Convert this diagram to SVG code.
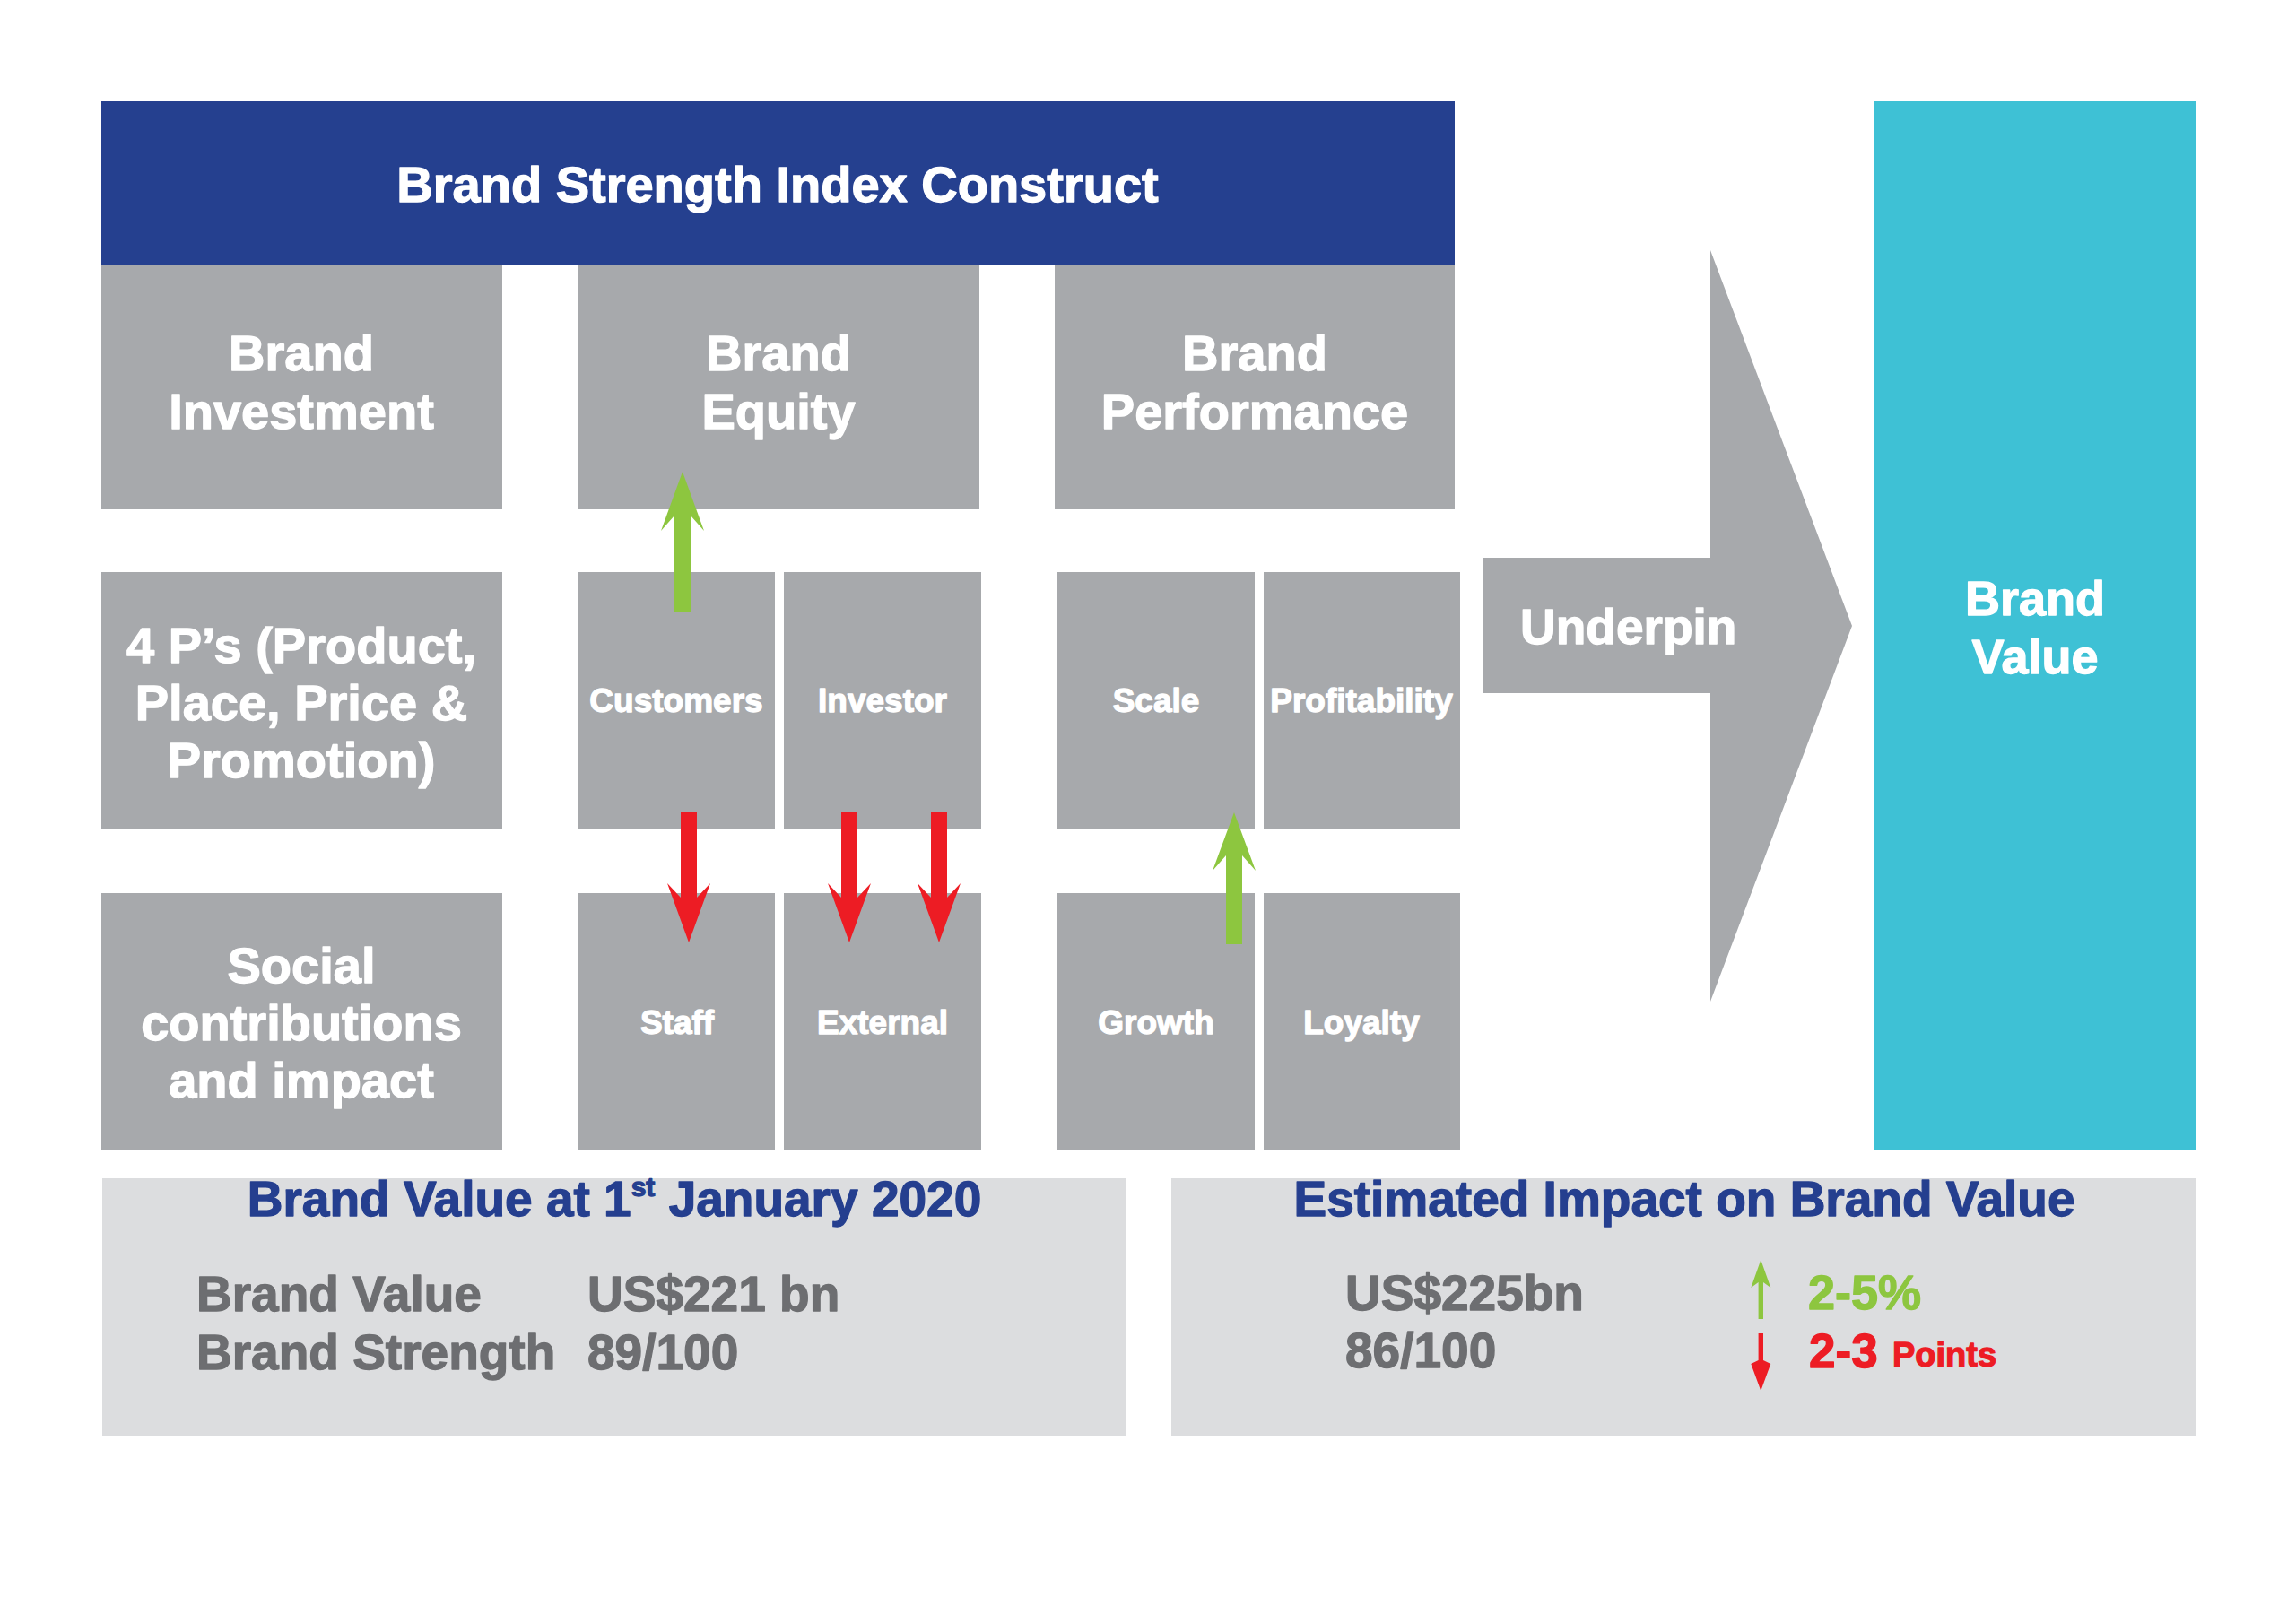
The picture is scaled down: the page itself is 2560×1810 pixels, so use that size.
<svg xmlns="http://www.w3.org/2000/svg" width="2560" height="1810" viewBox="0 0 2560 1810">
<style>
text{font-family:"Liberation Sans",Arial,sans-serif;font-weight:bold;stroke-width:1.3px;stroke-linejoin:round}
.box{fill:#a7a9ac}
.w{fill:#ffffff;stroke:#ffffff}
.big{font-size:56px;text-anchor:middle}
.sm{font-size:37px;text-anchor:middle}
.panel{fill:#dcdddf}
.ptitle{font-size:55px;fill:#253f8f;stroke:#253f8f;text-anchor:middle}
.gt{font-size:55px;fill:#6d6e71;stroke:#6d6e71}
.green{fill:#8dc63f}
.red{fill:#ed1c24}
text.green{stroke:#8dc63f}
text.red{stroke:#ed1c24}
</style>
<rect width="2560" height="1810" fill="#ffffff"/>
<g id="header">
<rect x="113" y="113" width="1509" height="183" fill="#25408f"/>
<text class="w big" x="867" y="225">Brand Strength Index Construct</text>
</g>
<g id="brand-investment">
<rect class="box" x="113" y="296" width="447" height="272"/>
<text class="w big" x="336" y="413">Brand</text>
<text class="w big" x="336" y="478">Investment</text>
</g>
<g id="brand-equity">
<rect class="box" x="645" y="296" width="447" height="272"/>
<text class="w big" x="868" y="413">Brand</text>
<text class="w big" x="868" y="478">Equity</text>
</g>
<g id="brand-performance">
<rect class="box" x="1176" y="296" width="446" height="272"/>
<text class="w big" x="1399" y="413">Brand</text>
<text class="w big" x="1399" y="478">Performance</text>
</g>
<g id="four-ps">
<rect class="box" x="113" y="638" width="447" height="287"/>
<text class="w big" x="336" y="739">4 P’s (Product,</text>
<text class="w big" x="336" y="803">Place, Price &amp;</text>
<text class="w big" x="336" y="867">Promotion)</text>
</g>
<g id="social">
<rect class="box" x="113" y="996" width="447" height="286"/>
<text class="w big" x="336" y="1096">Social</text>
<text class="w big" x="336" y="1160">contributions</text>
<text class="w big" x="336" y="1224">and impact</text>
</g>
<g id="customers">
<rect class="box" x="645" y="638" width="219" height="287"/>
<text class="w sm" x="754" y="794">Customers</text>
</g>
<g id="investor">
<rect class="box" x="874" y="638" width="220" height="287"/>
<text class="w sm" x="984" y="794">Investor</text>
</g>
<g id="staff">
<rect class="box" x="645" y="996" width="219" height="286"/>
<text class="w sm" x="755" y="1153">Staff</text>
</g>
<g id="external">
<rect class="box" x="874" y="996" width="220" height="286"/>
<text class="w sm" x="984" y="1153">External</text>
</g>
<g id="scale">
<rect class="box" x="1179" y="638" width="220" height="287"/>
<text class="w sm" x="1289" y="794">Scale</text>
</g>
<g id="profitability">
<rect class="box" x="1409" y="638" width="219" height="287"/>
<text class="w sm" x="1518" y="794">Profitability</text>
</g>
<g id="growth">
<rect class="box" x="1179" y="996" width="220" height="286"/>
<text class="w sm" x="1289" y="1153">Growth</text>
</g>
<g id="loyalty">
<rect class="box" x="1409" y="996" width="219" height="286"/>
<text class="w sm" x="1518" y="1153">Loyalty</text>
</g>
<g id="underpin">
<polygon class="box" points="1654,622 1907,622 1907,279 2065,698 1907,1117 1907,773 1654,773"/>
<text class="w" x="1695" y="718" font-size="55">Underpin</text>
</g>
<g id="brand-value">
<rect x="2090" y="113" width="358" height="1169" fill="#3ec1d5"/>
<text class="w" x="2269" y="686" font-size="54" text-anchor="middle">Brand</text>
<text class="w" x="2269" y="751" font-size="54" text-anchor="middle">Value</text>
</g>
<g id="connectors">
<polygon class="green" points="761,526 785,592 770,575 770,682 752,682 752,575 737,592"/>
<polygon class="red" points="759,905 777,905 777,1001 792,985 768,1051 744,985 759,1001"/>
<polygon class="red" points="938,905 956,905 956,1001 971,985 947,1051 923,985 938,1001"/>
<polygon class="red" points="1038,905 1056,905 1056,1001 1071,985 1047,1051 1023,985 1038,1001"/>
<polygon class="green" points="1376,906 1400,971 1385,954 1385,1053 1367,1053 1367,954 1352,971"/>
</g>
<g id="panel-current">
<rect class="panel" x="114" y="1314" width="1141" height="288"/>
<text class="ptitle" x="685" y="1356">Brand Value at 1<tspan font-size="30" dy="-22">st</tspan><tspan dy="22"> January 2020</tspan></text>
<text class="gt" x="219" y="1462">Brand Value</text>
<text class="gt" x="655" y="1462">US$221 bn</text>
<text class="gt" x="219" y="1527">Brand Strength</text>
<text class="gt" x="655" y="1527">89/100</text>
</g>
<g id="panel-impact">
<rect class="panel" x="1306" y="1314" width="1142" height="288"/>
<text class="ptitle" x="1878" y="1356">Estimated Impact on Brand Value</text>
<text class="gt" x="1500" y="1461">US$225bn</text>
<text class="gt" x="1500" y="1525">86/100</text>
<polygon class="green" points="1963.3,1405 1974.3,1436 1966,1430 1966,1471 1960.6,1471 1960.6,1430 1952.3,1436"/>
<polygon class="red" points="1960.6,1487 1966,1487 1966,1517 1974.3,1521 1963.3,1551 1952.3,1521 1960.6,1517"/>
<text class="green" x="2016" y="1460" font-size="54">2-5%</text>
<text class="red" x="2017" y="1525" font-size="53">2-3</text>
<text class="red" x="2110" y="1524" font-size="38">Points</text>
</g>
</svg>
